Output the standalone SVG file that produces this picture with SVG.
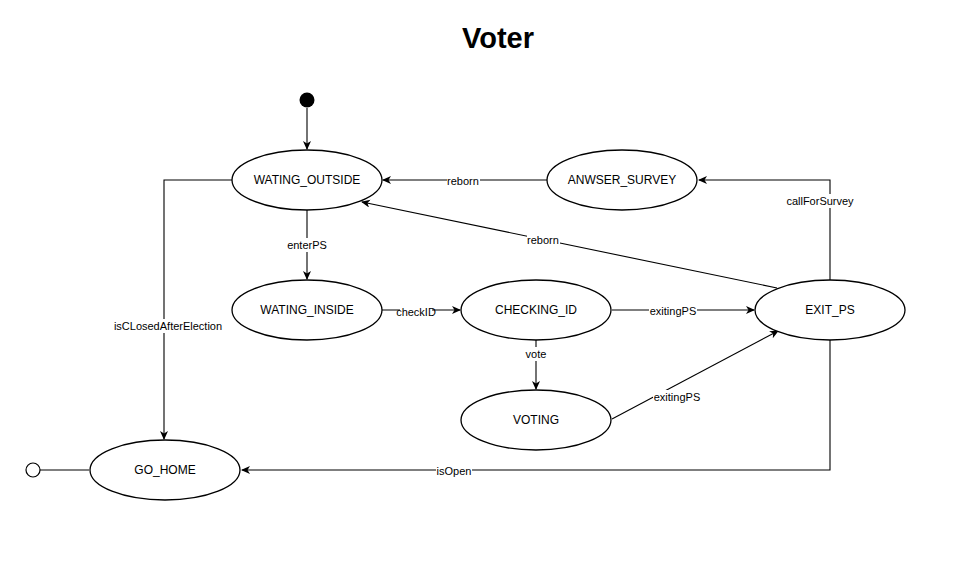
<svg xmlns="http://www.w3.org/2000/svg" width="956" height="580" viewBox="0 0 956 580">
<style>
.st{fill:#fff;stroke:#000;stroke-width:1.3}
.nt{font-family:"Liberation Sans",Arial,sans-serif;font-size:12px;fill:#000;text-anchor:middle;dominant-baseline:central}
.e{fill:none;stroke:#000;stroke-width:1.1}
.lb{font-family:"Liberation Sans",Arial,sans-serif;font-size:11px;fill:#000;text-anchor:middle;dominant-baseline:central}
.lbg{fill:#fff}
</style>
<defs>
<marker id="arr" markerWidth="10" markerHeight="10" refX="8" refY="4" orient="auto" markerUnits="userSpaceOnUse">
<path d="M0,0 L9,4 L0,8 L2.5,4 z" fill="#000"/>
</marker>
</defs>
<rect width="956" height="580" fill="#fff"/>
<text x="498" y="38" font-family="'Liberation Sans',Arial,sans-serif" font-size="29" font-weight="bold" text-anchor="middle" dominant-baseline="central">Voter</text>
<g id="connectors">
<path class="e" d="M307,108 L307,149" marker-end="url(#arr)"/>
<path class="e" d="M307,210 L307,279" marker-end="url(#arr)"/>
<path class="e" d="M382,310 L460,310" marker-end="url(#arr)"/>
<path class="e" d="M612,310 L754,310" marker-end="url(#arr)"/>
<path class="e" d="M536,340 L536,389" marker-end="url(#arr)"/>
<path class="e" d="M612,419 L778,331" marker-end="url(#arr)"/>
<path class="e" d="M777,288 L362,202" marker-end="url(#arr)"/>
<path class="e" d="M547,180 L383,180" marker-end="url(#arr)"/>
<path class="e" d="M830,280 L830,180 L699,180" marker-end="url(#arr)"/>
<path class="e" d="M830,340 L830,470 L242,470" marker-end="url(#arr)"/>
<path class="e" d="M232,180 L164,180 L164,439" marker-end="url(#arr)"/>
<path class="e" d="M89,470 L40,470"/>
<rect class="lbg" x="286" y="238" width="42" height="14"/>
<text class="lb" x="307" y="245">enterPS</text>
<rect class="lbg" x="400" y="305" width="32" height="14"/>
<text class="lb" x="416" y="312">checkID</text>
<rect class="lbg" x="649" y="304" width="48" height="14"/>
<text class="lb" x="673" y="311">exitingPS</text>
<rect class="lbg" x="525" y="347" width="22" height="14"/>
<text class="lb" x="536" y="354">vote</text>
<rect class="lbg" x="653" y="390" width="48" height="14"/>
<text class="lb" x="677" y="397">exitingPS</text>
<rect class="lbg" x="527" y="233" width="33" height="14"/>
<text class="lb" x="543" y="240">reborn</text>
<rect class="lbg" x="447" y="174" width="33" height="14"/>
<text class="lb" x="463" y="181">reborn</text>
<rect class="lbg" x="785" y="194" width="70" height="14"/>
<text class="lb" x="820" y="201">callForSurvey</text>
<rect class="lbg" x="436" y="464" width="36" height="14"/>
<text class="lb" x="454" y="471">isOpen</text>
<rect class="lbg" x="112" y="319" width="113" height="14"/>
<text class="lb" x="168" y="326">isCLosedAfterElection</text>
</g>
<g id="initial"><circle cx="307" cy="100" r="7.5" fill="#000"/></g>
<g id="final"><circle cx="33" cy="470" r="7" fill="#fff" stroke="#000" stroke-width="1.2"/></g>
<g id="WATING_OUTSIDE"><ellipse class="st" cx="307" cy="180" rx="75" ry="30"/><text class="nt" x="307" y="180">WATING_OUTSIDE</text></g>
<g id="ANWSER_SURVEY"><ellipse class="st" cx="622" cy="180" rx="75" ry="30"/><text class="nt" x="622" y="180">ANWSER_SURVEY</text></g>
<g id="WATING_INSIDE"><ellipse class="st" cx="307" cy="310" rx="75" ry="30"/><text class="nt" x="307" y="310">WATING_INSIDE</text></g>
<g id="CHECKING_ID"><ellipse class="st" cx="536" cy="310" rx="75" ry="30"/><text class="nt" x="536" y="310">CHECKING_ID</text></g>
<g id="EXIT_PS"><ellipse class="st" cx="830" cy="310" rx="75" ry="30"/><text class="nt" x="830" y="310">EXIT_PS</text></g>
<g id="VOTING"><ellipse class="st" cx="536" cy="420" rx="75" ry="30"/><text class="nt" x="536" y="420">VOTING</text></g>
<g id="GO_HOME"><ellipse class="st" cx="165" cy="470" rx="75" ry="30"/><text class="nt" x="165" y="470">GO_HOME</text></g>
</svg>
